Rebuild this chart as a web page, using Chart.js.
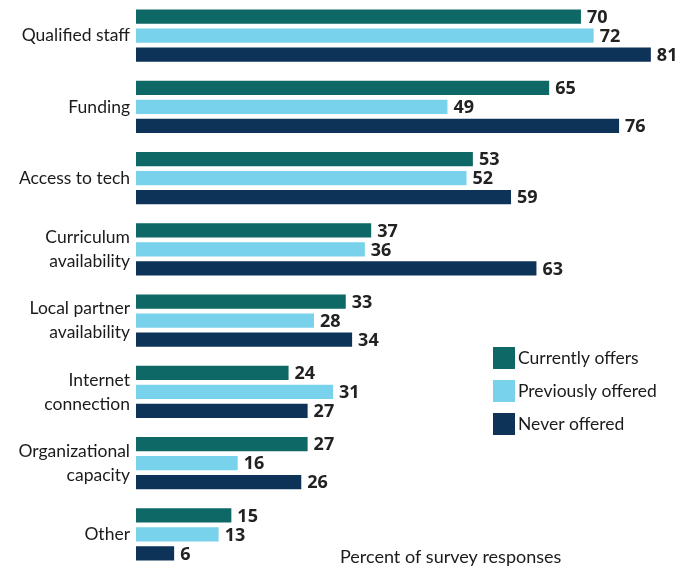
<!DOCTYPE html>
<html>
<head>
<meta charset="utf-8">
<script src="https://cdn.jsdelivr.net/npm/chart.js@4"></script>
<style>
  html, body { margin: 0; padding: 0; background: #fff; }
  #wrap { width: 690px; height: 570px; }
</style>
</head>
<body>
<div id="wrap"><canvas id="chart"></canvas></div>
<script>
// categories and series
var categories = [
    "Qualified staff",
    "Funding",
    "Access to tech",
    ["Curriculum", "availability"],
    ["Local partner", "availability"],
    ["Internet", "connection"],
    ["Organizational", "capacity"],
    "Other"
];
var currentlyOffers = [70, 65, 53, 37, 33, 24, 27, 15];
var previouslyOffered = [72, 49, 52, 36, 28, 31, 16, 13];
var neverOffered = [81, 76, 59, 63, 34, 27, 26, 6];

var seriesNames = ["Currently offers", "Previously offered", "Never offered"];
var colors = ["#0e6966", "#79d2ec", "#0d3458"];
var axisTitle = "Percent of survey responses";

var textColor = "#1b1b1b";

// value labels at the bar ends
var valueLabels = {
    id: 'valueLabels',
    afterDatasetsDraw: function (chart) {
        var ctx = chart.ctx;
        ctx.save();
        ctx.font = "bold 18px 'Open Sans'";
        ctx.fillStyle = "#222";
        ctx.textAlign = "left";
        ctx.textBaseline = "middle";
        chart.data.datasets.forEach(function (ds, i) {
            var meta = chart.getDatasetMeta(i);
            meta.data.forEach(function (bar, j) {
                ctx.fillText(ds.data[j], bar.x + 6, bar.y + 1);
            });
        });
        ctx.restore();
    }
};

// legend box + axis title in the lower right
var sideLegend = {
    id: 'sideLegend',
    afterDraw: function (chart) {
        var ctx = chart.ctx;
        ctx.save();
        ctx.font = "17.5px Lato";
        ctx.textBaseline = "middle";
        ctx.textAlign = "left";
        chart.data.datasets.forEach(function (ds, i) {
            var y = 347 + i * 33;
            ctx.fillStyle = ds.backgroundColor;
            ctx.fillRect(493, y, 22, 22);
            ctx.fillStyle = textColor;
            ctx.fillText(ds.label, 518, y + 11);
        });
        ctx.font = "18px Lato";
        ctx.fillText(axisTitle, 340, 557);
        ctx.restore();
    }
};

var chart = new Chart(document.getElementById('chart'), {
    type: 'bar',
    data: {
        labels: categories,
        datasets: [
            {label: seriesNames[0], data: currentlyOffers, backgroundColor: colors[0]},
            {label: seriesNames[1], data: previouslyOffered, backgroundColor: colors[1]},
            {label: seriesNames[2], data: neverOffered, backgroundColor: colors[2]}
        ]
    },
    options: {
        indexAxis: 'y',
        responsive: true,
        maintainAspectRatio: false,
        animation: false,
        layout: {padding: {top: 0, bottom: 0, left: 0, right: 1}},
        datasets: {
            bar: {categoryPercentage: 0.8, barPercentage: 0.76}
        },
        scales: {
            x: {
                display: false,
                min: 0,
                max: 87
            },
            y: {
                grid: {display: false, drawTicks: false},
                border: {display: false},
                ticks: {
                    color: textColor,
                    font: {family: 'Lato', size: 17.5, lineHeight: 1.37},
                    padding: 6
                },
                afterFit: function (scale) {
                    scale.width = 136;
                    scale.paddingTop = 0;
                    scale.paddingBottom = 0;
                }
            }
        },
        plugins: {
            legend: {display: false},
            tooltip: {enabled: false}
        }
    },
    plugins: [valueLabels, sideLegend]
});
</script>
</body>
</html>
